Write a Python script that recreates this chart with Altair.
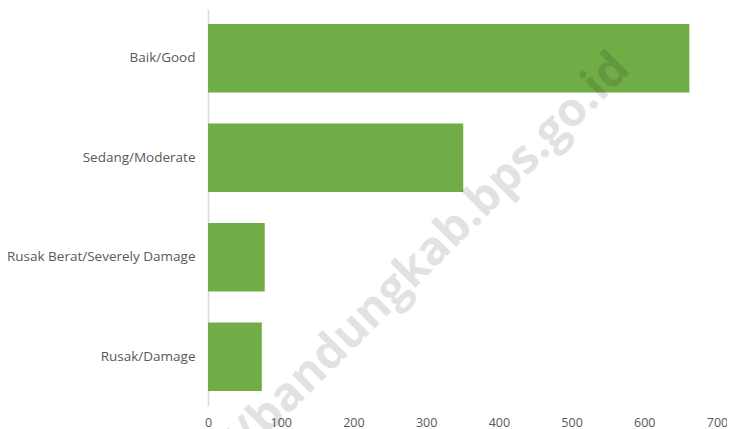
import altair as alt
import pandas as pd

categories = ["Baik/Good", "Sedang/Moderate", "Rusak Berat/Severely Damage", "Rusak/Damage"]
values = [662, 351, 78, 74]
x_ticks = [0, 100, 200, 300, 400, 500, 600, 700]
watermark = ["https://bandungkab.bps.go.id"]

df = pd.DataFrame({"kondisi": categories, "jumlah": values})
wm = pd.DataFrame({"t": watermark})

bars = alt.Chart(df).mark_bar(color="#70AD47").encode(
    x=alt.X("jumlah:Q", scale=alt.Scale(domain=[0, 700], nice=False),
            axis=alt.Axis(values=x_ticks, title=None, domain=False, ticks=False, grid=False,
                          labelFlush=False, labelColor="#595959", labelFontSize=12.5,
                          labelFont="Open Sans", labelPadding=10)),
    y=alt.Y("kondisi:N", sort=categories,
            scale=alt.Scale(paddingInner=0.31, paddingOuter=0.15),
            axis=alt.Axis(title=None, ticks=False, domainColor="#d9d9d9", domainWidth=1.5,
                          labelColor="#595959", labelFontSize=13.5, labelFont="Open Sans",
                          labelPadding=13, labelLimit=260)),
)

text = alt.Chart(wm).mark_text(
    angle=315, align="right", baseline="alphabetic", fontSize=47, fontWeight="bold",
    font="Open Sans", color="black", opacity=0.11,
).encode(
    text="t:N",
    x=alt.value(424),
    y=alt.value(62),
)

chart = alt.layer(bars, text).properties(
    width=509, height=397,
    autosize=alt.AutoSizeParams(type="none"),
    padding={"left": 200, "top": 1, "right": 10, "bottom": 24},
).configure_view(stroke=None)

chart.save("out.html", embed_options={"renderer": "svg", "actions": False})
